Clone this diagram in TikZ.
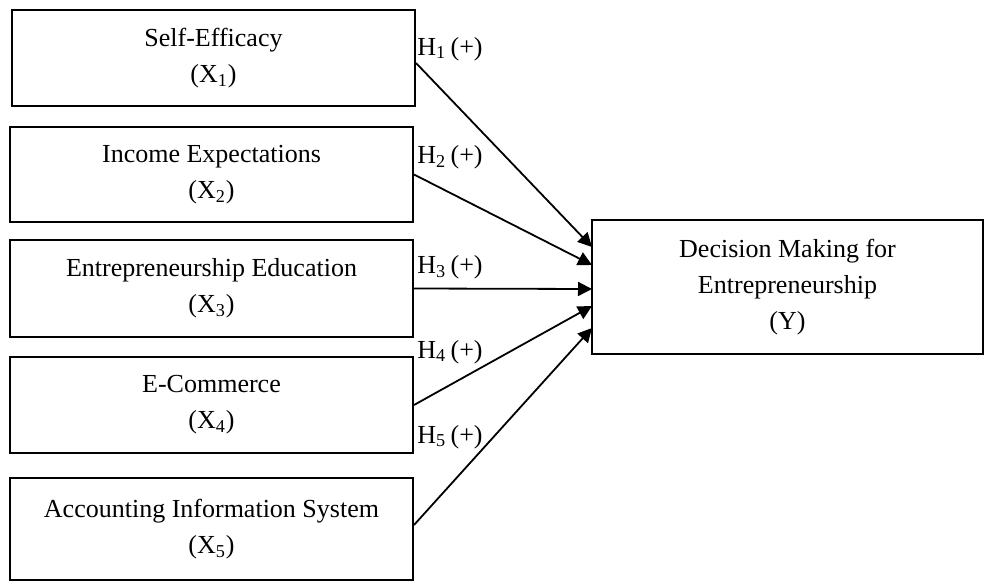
\documentclass[tikz,border=0pt]{standalone}
\usepackage{fontspec}
\setmainfont{Liberation Serif}
\usetikzlibrary{arrows.meta}

\begin{document}
\begin{tikzpicture}[x=0.5pt,y=-0.5pt,
    var/.style={draw, line width=1pt, align=center, inner sep=0pt,
        font=\fontsize{13}{18}\selectfont},
    hyp/.style={line width=0.9pt, -{Triangle[length=7pt,width=7pt]}},
    lab/.style={anchor=west, inner sep=0pt, font=\fontsize{13}{16}\selectfont}]
            \useasboundingbox (0,0) rectangle (985,583);

            \node[var, minimum width=201.5pt, minimum height=48pt] (x1) at (213.5,58) {Self-Efficacy\\(X\textsubscript{1})};
            \node[var, minimum width=201.5pt, minimum height=47.5pt] (x2) at (211.5,174.5) {Income Expectations\\(X\textsubscript{2})};
            \node[var, minimum width=201.5pt, minimum height=48.5pt] (x3) at (211.5,288.5) {Entrepreneurship Education\\(X\textsubscript{3})};
            \node[var, minimum width=201.5pt, minimum height=48pt] (x4) at (211.5,405) {E-Commerce\\(X\textsubscript{4})};
            \node[var, minimum width=201.5pt, minimum height=51pt] (x5) at (211.5,529) {Accounting Information System\\(X\textsubscript{5})};

            \node[var, minimum width=195.5pt, minimum height=67pt] (y) at (787.5,287) {Decision Making for\\Entrepreneurship\\(Y)};

            \node[lab] (h1) at (417,49) {H\textsubscript{1}\,(+)};
            \node[lab] (h2) at (417,157) {H\textsubscript{2}\,(+)};
            \node[lab] (h3) at (417,267) {H\textsubscript{3}\,(+)};
            \node[lab] (h4) at (417,352) {H\textsubscript{4}\,(+)};
            \node[lab] (h5) at (417,437) {H\textsubscript{5}\,(+)};

            \coordinate (e1) at (592,247);
            \coordinate (e2) at (592,265);
            \coordinate (e3) at (592,289);
            \coordinate (e4) at (592,306);
            \coordinate (e5) at (592,328);

            \draw[hyp] ([yshift=-2.5pt]x1.east) to (e1);
            \draw[hyp] (x2.east) to (e2);
            \draw[hyp] (x3.east) to (e3);
            \draw[hyp] (x4.east) to (e4);
            \draw[hyp] ([yshift=2pt]x5.east) to (e5);
        \end{tikzpicture}
\end{document}
